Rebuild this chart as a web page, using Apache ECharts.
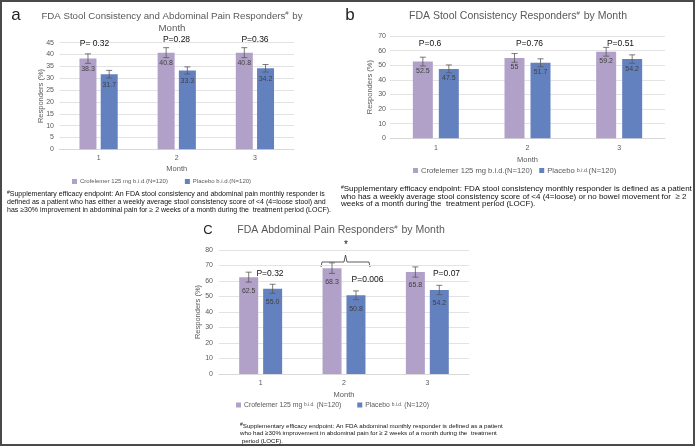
<!DOCTYPE html>
<html><head><meta charset="utf-8">
<script src="https://cdn.jsdelivr.net/npm/echarts@6/dist/echarts.min.js"></script>
<style>html,body{margin:0;padding:0;background:#fff}#c{width:696px;height:447px}</style>
</head><body><div id="c"></div>
<script>
// ---- data ----
const months = ['1', '2', '3'];
const seriesNames = ['Crofelemer 125 mg b.i.d.(N=120)', 'Placebo b.i.d.(N=120)'];
// Panel a: FDA Stool Consistency and Abdominal Pain Responders
const aCrof = [38.3, 40.8, 40.8];
const aPlac = [31.7, 33.3, 34.2];
const aCrofErr = [2.0, 2.1, 2.1];
const aPlacErr = [1.6, 1.5, 1.6];
const aPvals = ['P= 0.32', 'P=0.28', 'P=0.36'];
// Panel b: FDA Stool Consistency Responders
const bCrof = [52.5, 55, 59.2];
const bPlac = [47.5, 51.7, 54.2];
const bCrofErr = [3.0, 3.0, 3.0];
const bPlacErr = [2.7, 2.7, 2.9];
const bPvals = ['P=0.6', 'P=0.76', 'P=0.51'];
// Panel c: FDA Abdominal Pain Responders
const cCrof = [62.5, 68.3, 65.8];
const cPlac = [55.0, 50.8, 54.2];
const cCrofErr = [3.2, 3.4, 3.3];
const cPlacErr = [2.9, 2.8, 3.0];
const cPvals = ['P=0.32', 'P=0.006', 'P=0.07'];
const yTicksA = {min: 0, max: 45, interval: 5};
const yTicksB = {min: 0, max: 70, interval: 10};
const yTicksC = {min: 0, max: 80, interval: 10};

// ---- styles ----
const PURPLE = '#B1A1C8';
const BLUE = '#6481BF';
const GRAY = '#595959';
const FONT = 'Liberation Sans, Arial, sans-serif';

const chart = echarts.init(document.getElementById('c'), null, {renderer: 'canvas'});

function xAx(gi, margin, nameGap) {
  return {
    type: 'category', gridIndex: gi, data: months,
    axisLine: {lineStyle: {color: '#d9d9d9'}}, axisTick: {show: false},
    axisLabel: {color: GRAY, fontSize: 7, margin: margin, fontFamily: FONT},
    name: 'Month', nameLocation: 'middle', nameGap: nameGap, nameMoveOverlap: false,
    nameTextStyle: {color: GRAY, fontSize: 7.5, fontFamily: FONT}
  };
}
function yAx(gi, t, margin, nameGap) {
  return {
    type: 'value', gridIndex: gi, min: t.min, max: t.max, interval: t.interval,
    axisLine: {show: false}, axisTick: {show: false},
    axisLabel: {color: GRAY, fontSize: 7, margin: margin, fontFamily: FONT},
    splitLine: {lineStyle: {color: '#e3e3e3'}},
    name: 'Responders (%)', nameLocation: 'middle', nameRotate: 90, nameGap: nameGap, nameMoveOverlap: false,
    nameTextStyle: {color: GRAY, fontSize: 7.5, fontFamily: FONT}
  };
}
function bars(gi, vals, color, name, bw, gap, dist, fmt) {
  return {
    type: 'bar', name: name, xAxisIndex: gi, yAxisIndex: gi, data: vals,
    barWidth: bw, barGap: gap, itemStyle: {color: color},
    label: {show: true, position: 'insideTop', distance: dist, color: '#404040', fontSize: 7, fontFamily: FONT,
      formatter: p => fmt(p.value)}
  };
}
function errs(gi, crof, crofE, plac, placE, off) {
  const d = [];
  crof.forEach((v, i) => d.push([i, v, crofE[i], -1]));
  plac.forEach((v, i) => d.push([i, v, placE[i], 1]));
  return {
    type: 'custom', xAxisIndex: gi, yAxisIndex: gi, data: d, z: 10,
    encode: {x: 0, y: 1},
    renderItem: (params, api) => {
      const i = api.value(0), v = api.value(1), e = api.value(2), s = api.value(3);
      const x = api.coord([i, v])[0] + s * off;
      const yt = api.coord([i, v + e])[1];
      const yb = api.coord([i, v - e])[1];
      const st = {stroke: GRAY, lineWidth: 0.8};
      return {type: 'group', children: [
        {type: 'line', shape: {x1: x, y1: yt, x2: x, y2: yb}, style: st},
        {type: 'line', shape: {x1: x - 3, y1: yt, x2: x + 3, y2: yt}, style: st},
        {type: 'line', shape: {x1: x - 3, y1: yb, x2: x + 3, y2: yb}, style: st}
      ]};
    }
  };
}
// smallBid: 0 none, 1 placebo only, 2 both
function legend(left, top, fs, gap, smallBid, spaceBid) {
  return {
    left: left, top: top, padding: 0, icon: 'rect', itemWidth: 5, itemHeight: 5, itemGap: gap,
    data: seriesNames, selectedMode: false,
    textStyle: {color: GRAY, fontSize: fs, fontFamily: FONT, padding: [0, 0, 0, -2],
      rich: {s: {fontSize: fs * 0.72, color: GRAY, fontFamily: FONT}}},
    formatter: n => {
      if (smallBid === 0) return n;
      if (smallBid === 1 && n === seriesNames[0]) return n;
      const sp = spaceBid ? ' ' : '';
      return n.replace('b.i.d.', '{s|b.i.d.}' + sp);
    }
  };
}
const fmtA = v => String(v);
const fmtB = v => String(v);
const fmtC = v => v.toFixed(1);

function txt(x, y, text, size, color, align) {
  return {type: 'text', x: x, y: y, z: 50, style: {
    text: text, fill: color, font: size + 'px ' + FONT, align: align || 'center', verticalAlign: 'middle'
  }};
}
function title(x, y, text, size) {
  return {type: 'text', x: x, y: y, style: {
    text: text, fill: GRAY, font: size + 'px ' + FONT, align: 'center', verticalAlign: 'middle', lineHeight: 12,
    rich: {sup: {fontSize: 6, fill: GRAY, fontFamily: FONT, padding: [0, 1, 6, 0]}}
  }};
}
function note(x, y, lines, size, lh) {
  return {type: 'text', x: x, y: y, style: {
    text: lines.join('\n'), fill: '#111', font: size + 'px ' + FONT, align: 'left', verticalAlign: 'top', lineHeight: lh,
    rich: {sup: {fontSize: 5, fill: '#111', fontFamily: FONT, padding: [0, 0, 3, 0]}}
  }};
}

const option = {
  animation: false,
  backgroundColor: '#fff',
  grid: [
    {left: 59.5, right: 402, top: 42.7, bottom: 297.7},
    {left: 390, right: 31, top: 36, bottom: 308.7},
    {left: 219, right: 227, top: 250, bottom: 73}
  ],
  xAxis: [xAx(0, 5, 16), xAx(1, 6, 18), xAx(2, 6, 17)],
  yAxis: [yAx(0, yTicksA, 5.5, 15), yAx(1, yTicksB, 4, 16.5), yAx(2, yTicksC, 6, 17.5)],
  legend: [legend(72, 178.5, 6, 17, 0, false), legend(413, 166.5, 7.6, 7, 1, false), legend(236, 401.5, 6.8, 16, 2, true)],
  series: [
    bars(0, aCrof, PURPLE, seriesNames[0], 17, '25%', 7, fmtA),
    bars(0, aPlac, BLUE, seriesNames[1], 17, '25%', 7, fmtA),
    bars(1, bCrof, PURPLE, seriesNames[0], 20, '30%', 6, fmtB),
    bars(1, bPlac, BLUE, seriesNames[1], 20, '30%', 6, fmtB),
    bars(2, cCrof, PURPLE, seriesNames[0], 19, '26%', 10, fmtC),
    bars(2, cPlac, BLUE, seriesNames[1], 19, '26%', 10, fmtC),
    errs(0, aCrof, aCrofErr, aPlac, aPlacErr, 10.6),
    errs(1, bCrof, bCrofErr, bPlac, bPlacErr, 13),
    errs(2, cCrof, cCrofErr, cPlac, cPlacErr, 11.97)
  ],
  graphic: [
    // frame
    {type: 'rect', shape: {x: 1, y: 1, width: 693, height: 444}, style: {fill: 'none', stroke: '#4a4a4a', lineWidth: 2}, z: 100},
    // panel letters
    txt(16, 15, 'a', 17, '#222'),
    txt(350, 15, 'b', 17, '#222'),
    txt(208, 230, 'C', 13, '#222'),
    // titles
    title(172, 22.5, 'FDA Stool Consistency and Abdominal Pain Responders{sup|#} by\nMonth', 9.7),
    title(518, 16, 'FDA Stool Consistency Responders{sup|#} by Month', 10.5),
    title(341, 230, 'FDA Abdominal Pain Responders{sup|#} by Month', 10.5),
    // p-values
    txt(94.5, 43.5, aPvals[0], 8.5, '#111'),
    txt(176.5, 39.5, aPvals[1], 8.5, '#111'),
    txt(255, 39.5, aPvals[2], 8.5, '#111'),
    txt(430, 44, bPvals[0], 8.5, '#111'),
    txt(529.5, 44, bPvals[1], 8.5, '#111'),
    txt(620.5, 44, bPvals[2], 8.5, '#111'),
    txt(270, 273.3, cPvals[0], 8.5, '#111'),
    txt(367.5, 280, cPvals[1], 8.5, '#111'),
    txt(446.5, 273.3, cPvals[2], 8.5, '#111'),
    // bracket + star
    {type: 'polyline', shape: {points: [[321, 267], [322, 262], [344, 262], [345.5, 255], [347, 262], [369, 262], [370, 267]]},
      style: {fill: 'none', stroke: '#333', lineWidth: 0.8}},
    txt(346, 245, '*', 10, '#111'),
    // footnotes
    note(7, 190, [
      '{sup|#}Supplementary efficacy endpoint: An FDA stool consistency and abdominal pain monthly responder is',
      'defined as a patient who has either a weekly average stool consistency score of <4 (4=loose stool) and',
      'has \u226530% improvement in abdominal pain for \u2265 2 weeks of a month during the  treatment period (LOCF).'
    ], 7, 8),
    note(341, 185, [
      '{sup|#}Supplementary efficacy endpoint: FDA stool consistency monthly responder is defined as a patient',
      'who has a weekly average stool consistency score of <4 (4=loose) or no bowel movement for  \u2265 2',
      'weeks of a month during the  treatment period (LOCF).'
    ], 8, 7.7),
    note(240, 422.5, [
      '{sup|#}Supplementary efficacy endpoint: An FDA abdominal monthly responder is defined as a patient',
      'who had \u226530% improvement in abdominal pain for \u2265 2 weeks of a month during the  treatment',
      ' period (LOCF).'
    ], 6.2, 7.5)
  ]
};
chart.setOption(option);
</script>
</body></html>
